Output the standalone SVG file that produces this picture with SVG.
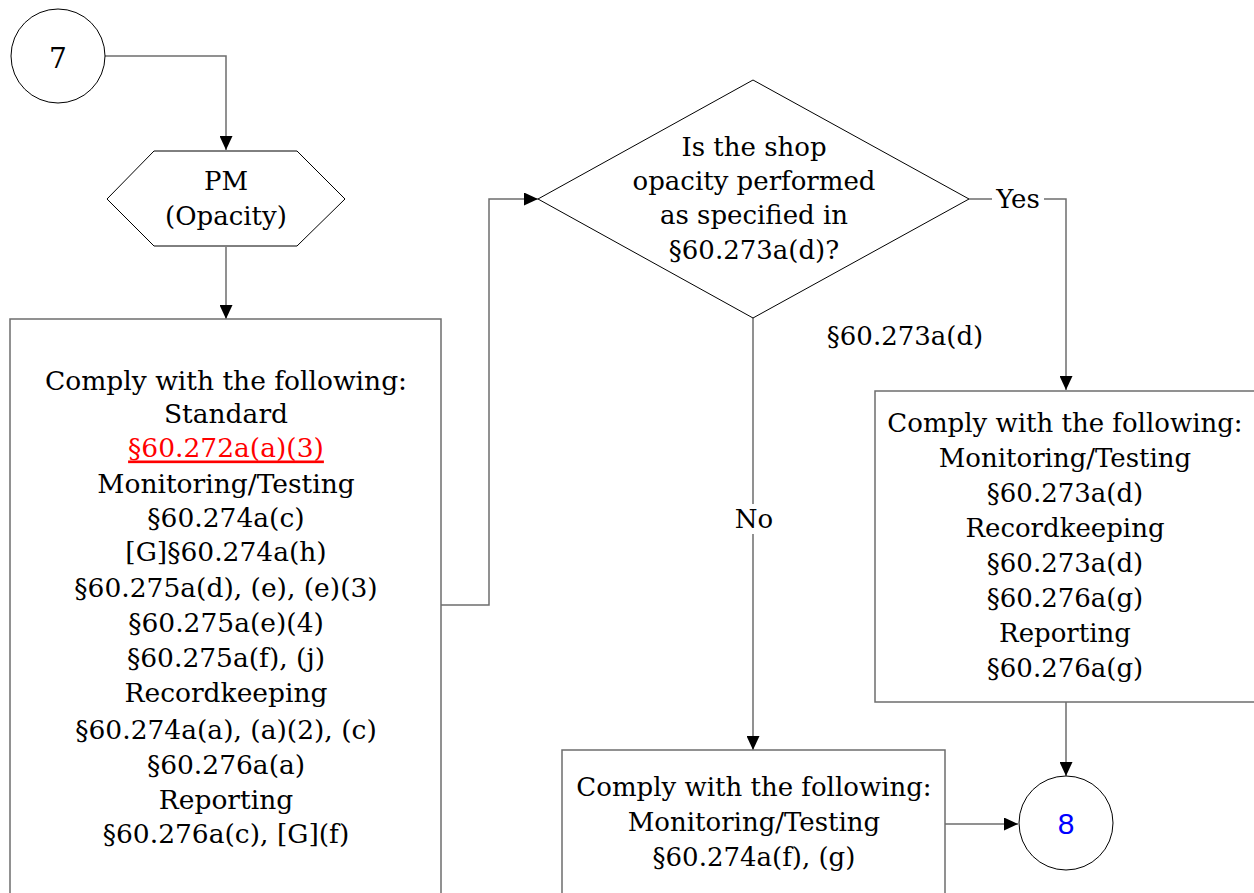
<svg xmlns="http://www.w3.org/2000/svg" width="1254" height="893" viewBox="0 0 1254 893">
<defs>
<marker id="arr" viewBox="0 0 14 13" refX="14" refY="6.5" markerWidth="14" markerHeight="13" markerUnits="userSpaceOnUse" orient="auto">
<path d="M0,0 L14,6.5 L0,13 z" fill="#000"/>
</marker>
<style>
.t{font-family:"DejaVu Serif","Liberation Serif",serif;font-size:26px;fill:#000;text-anchor:middle;dominant-baseline:central}
.big{font-size:26.5px}
.shape{fill:#fff;stroke:#000;stroke-width:1}
.box{fill:#fff;stroke:#6d6d6d;stroke-width:1.5}
.c{fill:none;stroke:#6d6d6d;stroke-width:1.5}
.lbl{fill:#fff;stroke:none}
</style>
</defs>
<rect width="1254" height="893" fill="#fff"/>
<g id="connectors">
<path class="c" d="M105,56 H226 V150" marker-end="url(#arr)"/>
<path class="c" d="M226,247 V319" marker-end="url(#arr)"/>
<path class="c" d="M441,605 H489 V199 H538" marker-end="url(#arr)"/>
<path class="c" d="M969,199 H1066 V390" marker-end="url(#arr)"/>
<path class="c" d="M753,318 V750" marker-end="url(#arr)"/>
<path class="c" d="M1066,702 V776" marker-end="url(#arr)"/>
<path class="c" d="M945,824 H1018" marker-end="url(#arr)"/>
<rect class="lbl" x="992" y="185" width="52" height="28"/>
<text class="t" x="1018" y="199">Yes</text>
<rect class="lbl" x="732" y="504" width="44" height="30"/>
<text class="t" x="754" y="519">No</text>
</g>
<g id="node-7">
<circle class="shape" cx="58" cy="56" r="47"/>
<text class="t" x="58" y="58" style="font-size:28px">7</text>
</g>
<g id="node-pm">
<polygon class="shape" points="107,199 154,151 297,151 345,199 297,246 154,246"/>
<text class="t" x="226" y="181">PM</text>
<text class="t" x="226" y="216">(Opacity)</text>
</g>
<g id="node-left">
<rect class="box" x="10" y="319" width="431" height="600"/>
<text class="t big" x="226" y="380">Comply with the following:</text>
<text class="t big" x="226" y="413">Standard</text>
<text class="t big" x="226" y="447" style="fill:#f00;text-decoration:underline">§60.272a(a)(3)</text>
<text class="t big" x="226" y="483">Monitoring/Testing</text>
<text class="t big" x="226" y="517">§60.274a(c)</text>
<text class="t big" x="226" y="551">[G]§60.274a(h)</text>
<text class="t big" x="226" y="587">§60.275a(d), (e), (e)(3)</text>
<text class="t big" x="226" y="622">§60.275a(e)(4)</text>
<text class="t big" x="226" y="657">§60.275a(f), (j)</text>
<text class="t big" x="226" y="692">Recordkeeping</text>
<text class="t big" x="226" y="729">§60.274a(a), (a)(2), (c)</text>
<text class="t big" x="226" y="764">§60.276a(a)</text>
<text class="t big" x="226" y="799">Reporting</text>
<text class="t big" x="226" y="833">§60.276a(c), [G](f)</text>
</g>
<g id="node-decision">
<polygon class="shape" points="538,199 753,80 969,199 753,318"/>
<text class="t" x="754" y="147">Is the shop</text>
<text class="t" x="754" y="181">opacity performed</text>
<text class="t" x="754" y="215">as specified in</text>
<text class="t" x="754" y="250">§60.273a(d)?</text>
</g>
<g id="label-ref">
<text class="t" x="905" y="336">§60.273a(d)</text>
</g>
<g id="node-right">
<rect class="box" x="875" y="391" width="382" height="311"/>
<text class="t" x="1065" y="423">Comply with the following:</text>
<text class="t" x="1065" y="458">Monitoring/Testing</text>
<text class="t" x="1065" y="493">§60.273a(d)</text>
<text class="t" x="1065" y="528">Recordkeeping</text>
<text class="t" x="1065" y="563">§60.273a(d)</text>
<text class="t" x="1065" y="598">§60.276a(g)</text>
<text class="t" x="1065" y="633">Reporting</text>
<text class="t" x="1065" y="668">§60.276a(g)</text>
</g>
<g id="node-bottom">
<rect class="box" x="562" y="750" width="383" height="200"/>
<text class="t" x="754" y="787">Comply with the following:</text>
<text class="t" x="754" y="822">Monitoring/Testing</text>
<text class="t" x="754" y="857">§60.274a(f), (g)</text>
</g>
<g id="node-8">
<circle class="shape" cx="1066" cy="823" r="47"/>
<text class="t" x="1066" y="823" style="fill:#00f;font-family:'Liberation Sans Narrow','Liberation Sans',sans-serif;font-size:30px">8</text>
</g>
</svg>
